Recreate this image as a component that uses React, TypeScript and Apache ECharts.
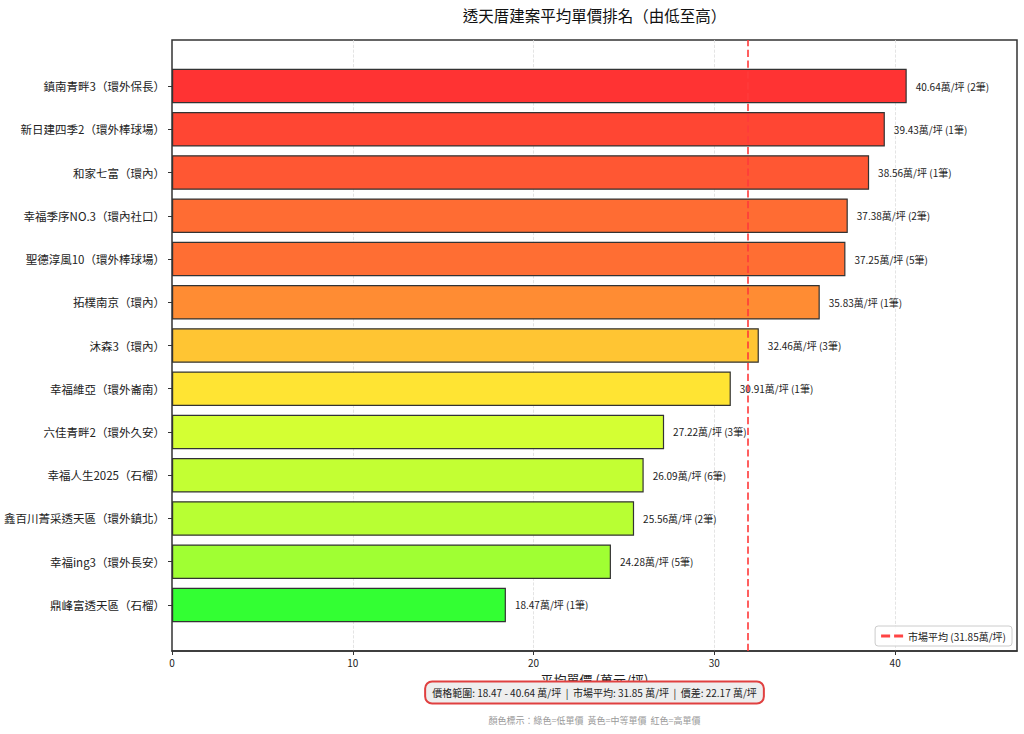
import { useEffect, useRef } from "react";
import * as echarts from "echarts";

const FONT = "'Noto Sans CJK TC', 'Noto Sans', sans-serif";

// top to bottom
const projects = [
    "鎮南青畔3（環外保長）",
    "新日建四季2（環外棒球場）",
    "和家七富（環內）",
    "幸福季序NO.3（環內社口）",
    "聖德淳風10（環外棒球場）",
    "拓樸南京（環內）",
    "沐森3（環內）",
    "幸福維亞（環外崙南）",
    "六佳青畔2（環外久安）",
    "幸福人生2025（石榴）",
    "鑫百川菁采透天區（環外鎮北）",
    "幸福ing3（環外長安）",
    "鼎峰富透天區（石榴）",
];
const avgPrices = [40.64, 39.43, 38.56, 37.38, 37.25, 35.83, 32.46, 30.91, 27.22, 26.09, 25.56, 24.28, 18.47];
const dealCounts = [2, 1, 1, 2, 5, 1, 3, 1, 3, 6, 2, 5, 1];
const barColors = [
    "#ff3333", "#ff4633", "#ff5733", "#ff6c33", "#ff6e33", "#ff8c33", "#ffc533",
    "#ffe433", "#d4ff33", "#c3ff33", "#b8ff33", "#a0ff33", "#33ff33",
];
const marketAvg = 31.85;
const xMax = 46.74;

export default function App() {
    const chartRef = useRef<HTMLDivElement | null>(null);

    useEffect(() => {
        if (!chartRef.current) return;
        const chart = echarts.init(chartRef.current, undefined, { renderer: "svg" });

        const minP = Math.min(...avgPrices);
        const maxP = Math.max(...avgPrices);
        const statsText = `價格範圍: ${minP.toFixed(2)} - ${maxP.toFixed(2)} 萬/坪  |  市場平均: ${marketAvg.toFixed(2)} 萬/坪  |  價差: ${(maxP - minP).toFixed(2)} 萬/坪`;
        const avgName = `市場平均 (${marketAvg}萬/坪)`;

        const option: any = {
            animation: false,
            textStyle: { fontFamily: FONT },
            grid: [
                // frame grid
                { left: 172, right: 7, top: 40, bottom: 83, show: true, borderColor: "#333", borderWidth: 1.5, backgroundColor: "transparent" },
                // bar grid (inset like matplotlib margins)
                { left: 172, right: 7, top: 64.4, bottom: 107.4 },
            ],
            xAxis: [
                {
                    gridIndex: 0,
                    type: "value",
                    min: 0,
                    max: xMax,
                    interval: 10,
                    axisLine: { show: true, onZero: false, lineStyle: { color: "#333", width: 1.5 } },
                    axisTick: { show: true, length: 4, lineStyle: { color: "#333" } },
                    axisLabel: { fontSize: 10, color: "#222", margin: 6, fontFamily: FONT, showMaxLabel: false },
                    splitLine: { show: true, showMinLine: false, showMaxLine: false, lineStyle: { color: "#dddddd", type: "dashed", width: 0.8 } },
                    name: "平均單價 (萬元/坪)",
                    nameLocation: "middle",
                    nameGap: 22,
                    nameTextStyle: { fontSize: 13, color: "#222", fontFamily: FONT },
                },
                { gridIndex: 1, type: "value", min: 0, max: xMax, show: false },
            ],
            yAxis: [
                { gridIndex: 0, type: "value", min: 0, max: 1, show: false },
                {
                    gridIndex: 1,
                    type: "category",
                    inverse: true,
                    data: projects,
                    axisLine: { show: false },
                    axisTick: { show: true, alignWithLabel: true, length: 4, lineStyle: { color: "#333" } },
                    axisLabel: { fontSize: 11.5, color: "#222", margin: 7, fontFamily: FONT },
                    splitLine: { show: false },
                },
            ],
            legend: {
                right: 12,
                bottom: 88,
                orient: "vertical",
                itemWidth: 22,
                itemHeight: 3,
                padding: [5, 6],
                borderColor: "#cccccc",
                borderWidth: 1,
                borderRadius: 3,
                backgroundColor: "rgba(255,255,255,0.85)",
                textStyle: { fontSize: 10, color: "#222", fontFamily: FONT },
                data: [{ name: avgName, icon: "path://M0,0h9v3h-9z M13,0h9v3h-9z" }],
            },
            series: [
                {
                    type: "bar",
                    xAxisIndex: 1,
                    yAxisIndex: 1,
                    barCategoryGap: "20%",
                    data: avgPrices.map((v, i) => ({
                        value: v,
                        itemStyle: { color: barColors[i], borderColor: "#333", borderWidth: 1.2 },
                    })),
                    label: {
                        show: true,
                        position: "right",
                        distance: 9,
                        fontSize: 10,
                        color: "#222",
                        fontFamily: FONT,
                        formatter: (p: any) => `${p.value.toFixed(2)}萬/坪 (${dealCounts[p.dataIndex]}筆)`,
                    },
                    z: 2,
                },
                {
                    name: avgName,
                    type: "line",
                    xAxisIndex: 0,
                    yAxisIndex: 0,
                    data: [],
                    symbol: "none",
                    itemStyle: { color: "#ff4444" },
                    lineStyle: { color: "#ff4444", type: "dashed", width: 2 },
                    markLine: {
                        silent: true,
                        symbol: "none",
                        label: { show: false },
                        lineStyle: { color: "#ff3b3b", type: "dashed", width: 1.8, opacity: 0.9 },
                        data: [{ xAxis: marketAvg }],
                    },
                    z: 3,
                },
            ],
            graphic: [
                {
                    type: "text",
                    x: 594.5,
                    y: 15,
                    style: {
                        text: "透天厝建案平均單價排名（由低至高）",
                        fill: "#111",
                        font: `400 15.5px ${FONT}`,
                        textAlign: "center",
                        textVerticalAlign: "middle",
                    },
                },
                {
                    type: "text",
                    x: 594.5,
                    y: 692.5,
                    z: 100,
                    style: {
                        text: statsText,
                        fill: "#222",
                        font: `10px ${FONT}`,
                        textAlign: "center",
                        textVerticalAlign: "middle",
                        backgroundColor: "#eeeeee",
                        borderColor: "#e04040",
                        borderWidth: 2,
                        borderRadius: 6,
                        padding: [5, 6],
                    },
                },
                {
                    type: "text",
                    x: 594.5,
                    y: 720,
                    style: {
                        text: "顏色標示：綠色=低單價  黃色=中等單價  紅色=高單價",
                        fill: "#999",
                        font: `9px ${FONT}`,
                        textAlign: "center",
                        textVerticalAlign: "middle",
                    },
                },
            ],
        };

        chart.setOption(option);
        return () => {
            chart.dispose();
        };
    }, []);

    return (
        <div
            ref={chartRef}
            style={{ position: "fixed", left: 0, top: 0, width: 1024, height: 734, background: "#fff" }}
        />
    );
}
